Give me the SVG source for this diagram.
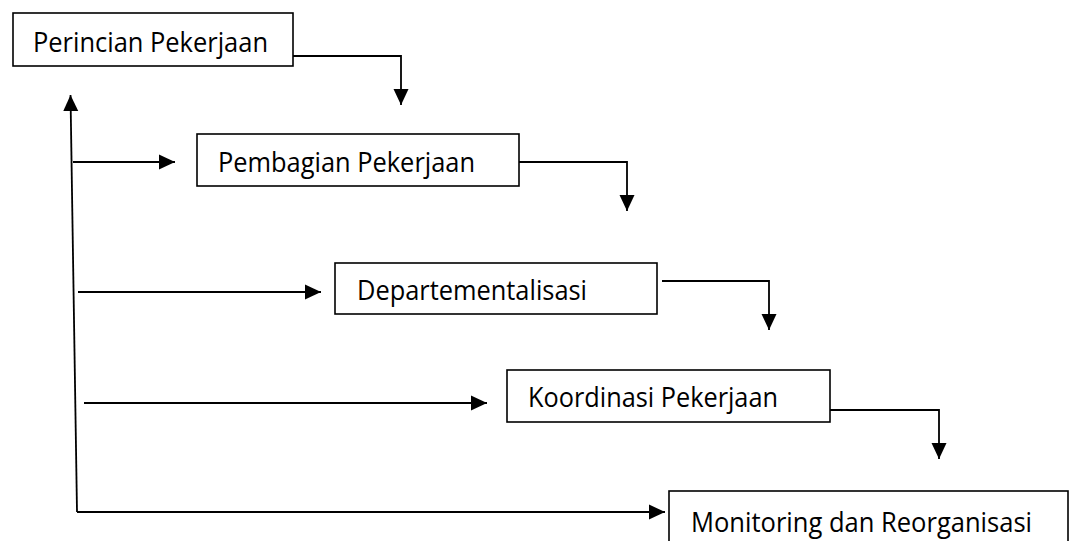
<svg xmlns="http://www.w3.org/2000/svg" width="1071" height="541" viewBox="0 0 1071 541">
<style>
.box{fill:#fff;stroke:#000;stroke-width:1.6}
.lbl{font-family:"Open Sans","Noto Sans","Liberation Sans",sans-serif;font-size:28px;fill:#000}
.con{fill:none;stroke:#000;stroke-width:1.8}
</style>
<defs>
<marker id="ah" markerUnits="userSpaceOnUse" markerWidth="17" markerHeight="17" viewBox="0 0 17 17" refX="16" refY="8.5" orient="auto">
<path d="M0,1 L16,8.5 L0,16 Z" fill="#000"/>
</marker>
</defs>
<rect width="1071" height="541" fill="#fff"/>
<g id="connectors">
<path class="con" d="M293,56 H401 V105" marker-end="url(#ah)"/>
<path class="con" d="M519,162 H627 V211" marker-end="url(#ah)"/>
<path class="con" d="M662,281 H769 V330" marker-end="url(#ah)"/>
<path class="con" d="M830,410 H939 V459" marker-end="url(#ah)"/>
<path class="con" d="M77,512 L70.5,95" marker-end="url(#ah)"/>
<path class="con" d="M77,512 H665" marker-end="url(#ah)"/>
<path class="con" d="M73,162 H175" marker-end="url(#ah)"/>
<path class="con" d="M78,292 H321" marker-end="url(#ah)"/>
<path class="con" d="M84,403 H487" marker-end="url(#ah)"/>
</g>
<g id="perincian">
<rect class="box" x="13" y="13" width="280" height="53"/>
<text class="lbl" x="33" y="52" textLength="235" lengthAdjust="spacingAndGlyphs">Perincian Pekerjaan</text>
</g>
<g id="pembagian">
<rect class="box" x="197" y="134" width="322" height="52"/>
<text class="lbl" x="218" y="172" textLength="257" lengthAdjust="spacingAndGlyphs">Pembagian Pekerjaan</text>
</g>
<g id="departementalisasi">
<rect class="box" x="335" y="263" width="322" height="51"/>
<text class="lbl" x="357" y="300" textLength="230" lengthAdjust="spacingAndGlyphs">Departementalisasi</text>
</g>
<g id="koordinasi">
<rect class="box" x="507" y="370" width="323" height="52"/>
<text class="lbl" x="528" y="407" textLength="250" lengthAdjust="spacingAndGlyphs">Koordinasi Pekerjaan</text>
</g>
<g id="monitoring">
<rect class="box" x="669" y="491" width="399" height="60"/>
<text class="lbl" x="691" y="532" textLength="341" lengthAdjust="spacingAndGlyphs">Monitoring dan Reorganisasi</text>
</g>
</svg>
